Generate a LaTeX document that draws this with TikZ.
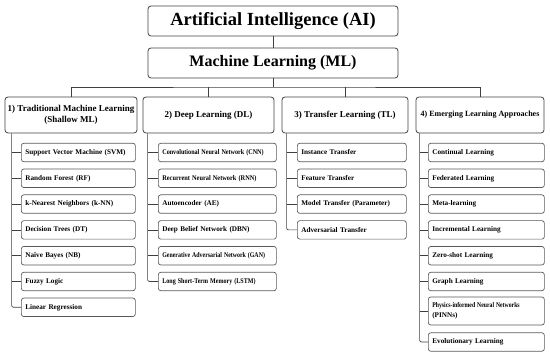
\documentclass[tikz,border=0pt]{standalone}
\usepackage{fontspec}
\usepackage{graphicx}
\setmainfont{Liberation Serif}
\usetikzlibrary{positioning}
\newcommand{\narrow}[2][0.86]{\scalebox{#1}[1]{#2}}

\begin{document}
\begin{tikzpicture}[x=1pt,y=-1pt,
      top/.style={rectangle,draw=black!75,line width=0.8pt,rounded corners=3pt,minimum width=250pt,minimum height=30pt,font=\bfseries},
      group/.style={rectangle,draw=black!75,line width=0.8pt,rounded corners=3pt,minimum height=36pt,align=center,inner xsep=2pt,font=\fontsize{9}{11}\selectfont\bfseries},
      leaf/.style={rectangle,draw=black!65,line width=0.7pt,rounded corners=2.5pt,anchor=west,minimum height=18.5pt,align=left,inner xsep=4pt,font=\fontsize{7.2}{8.6}\selectfont\bfseries},
      link/.style={draw=black!75,line width=0.7pt}]
    \useasboundingbox (0,0) rectangle (550,358);
    % two top levels
    \node[top,font=\fontsize{18.5}{21}\selectfont\bfseries] (ai) at (273,21) {Artificial Intelligence (AI)};
    \node[top,font=\fontsize{16}{19}\selectfont\bfseries] (ml) at (273,63) {Machine Learning (ML)};
    \draw[link] (ai) -- (ml);
    % four families of methods
    \node[group,minimum width=132pt] (g1) at (71,115) {1) Traditional Machine Learning\\(Shallow ML)};
    \node[group,minimum width=131pt] (g2) at (208.5,115) {2) Deep Learning (DL)};
    \node[group,minimum width=126pt] (g3) at (345,115) {3) Transfer Learning (TL)};
    \node[group,minimum width=128pt,font=\fontsize{8}{10}\selectfont\bfseries] (g4) at (480,115) {4) Emerging Learning Approaches};
    % bus between ML and the families
    \coordinate (bus) at (273,87);
    \draw[link] (ml) -- (bus);
    \draw[link] (g1.north) |- (bus) -| (g4.north);
    \draw[link] (g2.north) -- (g2.north |- bus);
    \draw[link] (g3.north) -- (g3.north |- bus);
    % leaves of each family
    \foreach \t [count=\i] in {Support Vector Machine (SVM), Random Forest (RF), k-Nearest Neighbors (k-NN), Decision Trees (DT), Na\"ive Bayes (NB), Fuzzy Logic, Linear Regression} {
      \node[leaf,text width=106pt] (a\i) at (21,{152.5+25.8*(\i-1)}) {\t};
    }
    \foreach \t [count=\i] in {\narrow[0.85]{Convolutional Neural Network (CNN)}, \narrow[0.88]{Recurrent Neural Network (RNN)}, Autoencoder (AE), Deep Belief Network (DBN), \narrow[0.82]{Generative Adversarial Network (GAN)}, \narrow[0.84]{Long Short-Term Memory (LSTM)}} {
      \node[leaf,text width=110pt] (b\i) at (158,{152.5+25.8*(\i-1)}) {\t};
    }
    \foreach \t [count=\i] in {Instance Transfer, Feature Transfer, Model Transfer (Parameter), Adversarial Transfer} {
      \node[leaf,text width=101pt] (c\i) at (297,{152.5+25.8*(\i-1)}) {\t};
    }
    \foreach \t [count=\i] in {Continual Learning, Federated Learning, Meta-learning, Incremental Learning, Zero-shot Learning, Graph Learning} {
      \node[leaf,text width=108pt] (d\i) at (428,{152.5+25.8*(\i-1)}) {\t};
    }
    \node[leaf,text width=108pt,minimum height=28pt,font=\fontsize{7.2}{10}\selectfont\bfseries] (d7) at (428,311) {\narrow[0.8]{Physics-informed Neural Networks}\\(PINNs)};
    \node[leaf,text width=108pt] (d8) at (428,342) {Evolutionary Learning};
    % trunks from each family down to its leaves
    \coordinate (t1) at ([xshift=7pt]g1.south west);
    \coordinate (t2) at ([xshift=5pt]g2.south west);
    \coordinate (t3) at ([xshift=5pt]g3.south west);
    \coordinate (t4) at ([xshift=4pt]g4.south west);
    \draw[link,rounded corners=2pt] (t1) |- (a7.west);
    \draw[link,rounded corners=2pt] (t2) |- (b6.west);
    \draw[link,rounded corners=2pt] (t3) |- (c4.west);
    \draw[link,rounded corners=2pt] (t4) |- (d8.west);
    \foreach \i in {1,...,6} \draw[link] (a\i.west -| t1) -- (a\i.west);
    \foreach \i in {1,...,5} \draw[link] (b\i.west -| t2) -- (b\i.west);
    \foreach \i in {1,...,3} \draw[link] (c\i.west -| t3) -- (c\i.west);
    \foreach \i in {1,...,7} \draw[link] (d\i.west -| t4) -- (d\i.west);
  \end{tikzpicture}
\end{document}
